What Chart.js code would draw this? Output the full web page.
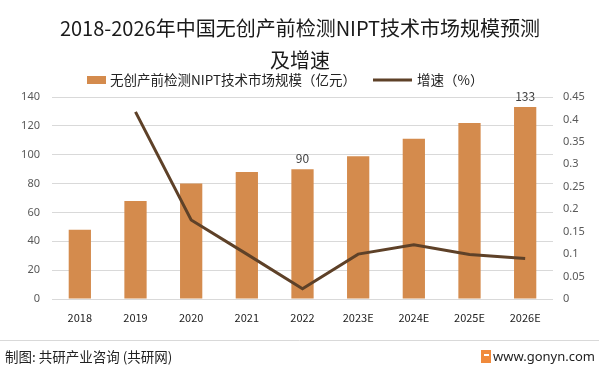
<!DOCTYPE html>
<html><head><meta charset="utf-8">
<script src="https://cdn.jsdelivr.net/npm/chart.js@4/dist/chart.umd.min.js"></script>
<style>html,body{margin:0;padding:0;background:#fff}#wrap{width:599px;height:373px;position:relative}</style>
</head><body><div id="wrap"><canvas id="c" width="599" height="373"></canvas></div>
<script>
const categories = ['2018','2019','2020','2021','2022','2023E','2024E','2025E','2026E'];
const marketSize = [48, 68, 80, 88, 90, 99, 111, 122, 133];
const growthRate = [null, 0.417, 0.176, 0.10, 0.023, 0.10, 0.121, 0.099, 0.09];
const leftTicks = [0,20,40,60,80,100,120,140];
const rightTicks = [0,0.05,0.1,0.15,0.2,0.25,0.3,0.35,0.4,0.45];
const labeledIdx = [4, 8];
const titleLines = ['2018-2026年中国无创产前检测NIPT技术市场规模预测', '及增速'];
const barName = '无创产前检测NIPT技术市场规模（亿元）';
const lineName = '增速（%）';

const CJK = '"Noto Sans CJK SC","Noto Sans",sans-serif';
const BAR = '#D48B4D', LINE = '#5E4128';

const deco = {
  id: 'deco',
  afterDraw(chart) {
    const ctx = chart.ctx;
    ctx.save();
    ctx.fillStyle = '#1a1a1a';
    ctx.font = '20px ' + CJK;
    ctx.textAlign = 'center'; ctx.textBaseline = 'middle';
    ctx.fillText(titleLines[0], 300, 28);
    ctx.fillText(titleLines[1], 300, 60);
    // legend
    ctx.font = '13.5px ' + CJK;
    ctx.textAlign = 'left';
    ctx.fillStyle = BAR; ctx.fillRect(87, 76, 19, 8);
    ctx.fillStyle = '#222'; ctx.fillText(barName, 110, 80);
    ctx.strokeStyle = LINE; ctx.lineWidth = 3;
    ctx.beginPath(); ctx.moveTo(373, 80); ctx.lineTo(412, 80); ctx.stroke();
    ctx.fillStyle = '#222'; ctx.fillText(lineName, 417, 80);
    // data labels
    const meta = chart.getDatasetMeta(1);
    ctx.font = '12px ' + CJK; ctx.fillStyle = '#404040'; ctx.textAlign = 'center'; ctx.textBaseline = 'bottom';
    labeledIdx.forEach(i => { const el = meta.data[i]; ctx.fillText(String(marketSize[i]), el.x, el.y - 5); });
    // footer
    ctx.strokeStyle = '#d9d9d9'; ctx.lineWidth = 1;
    ctx.beginPath(); ctx.moveTo(0, 340.5); ctx.lineTo(599, 340.5); ctx.stroke();
    ctx.fillStyle = '#222'; ctx.font = '13.5px ' + CJK; ctx.textAlign = 'left'; ctx.textBaseline = 'middle';
    ctx.fillText('制图: 共研产业咨询 (共研网)', 5, 357);
    ctx.fillStyle = '#F08A3C'; ctx.fillRect(481, 350, 10, 13);
    ctx.fillStyle = '#fff'; ctx.fillRect(484, 354, 5, 2);
    ctx.fillStyle = '#222'; ctx.font = '13px "Noto Sans",sans-serif'; ctx.textAlign = 'right';
    ctx.fillText('www.gonyn.com', 595, 357);
    ctx.restore();
  }
};

new Chart(document.getElementById('c'), {
  data: {
    labels: categories,
    datasets: [
      { type: 'line', label: lineName, data: growthRate, yAxisID: 'y1', borderColor: LINE, borderWidth: 3, pointRadius: 0, tension: 0, order: 0, spanGaps: false },
      { type: 'bar', label: barName, data: marketSize, yAxisID: 'y', backgroundColor: BAR, barPercentage: 0.4, categoryPercentage: 1, order: 1 }
    ]
  },
  options: {
    responsive: false, animation: false,
    layout: { padding: { top: 97, bottom: 44, left: 0, right: 0 } },
    plugins: { legend: { display: false }, title: { display: false }, tooltip: { enabled: false } },
    scales: {
      x: {
        grid: { display: false, drawTicks: false }, border: { display: false },
        ticks: { color: '#222', font: { size: 11, family: CJK }, padding: 12, maxRotation: 0 },
        afterFit(s) { s.height = 30; }
      },
      y: {
        position: 'left', min: 0, max: 140,
        afterBuildTicks(s) { s.ticks = leftTicks.map(v => ({ value: v })); },
        grid: { color: '#d9d9d9', drawTicks: false }, border: { display: false },
        ticks: { color: '#595959', font: { size: 11, family: '"Noto Sans",sans-serif' }, padding: 12 },
        afterFit(s) { s.width = 52; }
      },
      y1: {
        position: 'right', min: 0, max: 0.45,
        afterBuildTicks(s) { s.ticks = rightTicks.map(v => ({ value: v })); },
        grid: { display: false, drawTicks: false }, border: { display: false },
        ticks: { color: '#595959', font: { size: 11, family: '"Noto Sans",sans-serif' }, padding: 10, callback: v => String(+v.toFixed(2)) },
        afterFit(s) { s.width = 46; }
      }
    }
  },
  plugins: [deco]
});
</script></body></html>
